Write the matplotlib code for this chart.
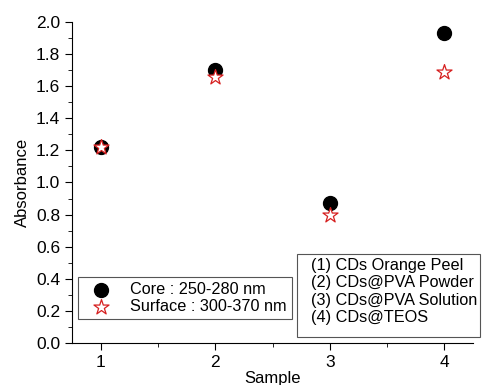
import matplotlib.pyplot as plt
from matplotlib.patches import Rectangle
from matplotlib.ticker import MultipleLocator

plt.rcParams['font.family'] = ['Liberation Sans', 'DejaVu Sans']

samples = [1, 2, 3, 4]
core = [1.22, 1.70, 0.87, 1.93]
surface = [1.22, 1.66, 0.80, 1.69]
sample_names = ['(1) CDs Orange Peel', '(2) CDs@PVA Powder',
                '(3) CDs@PVA Solution', '(4) CDs@TEOS']

W, H = 483, 385
fig = plt.figure(figsize=(W/100, H/100), dpi=100)
ax = fig.add_axes([72/W, 42/H, 401/W, 321/H])

ax.scatter(samples, core, s=100, color='black', label='Core : 250-280 nm', zorder=3)
ax.scatter(samples, surface, s=130, marker='*', facecolor='white', edgecolor='#d62020',
           linewidth=0.9, label='Surface : 300-370 nm', zorder=4)

ax.set_xlim(0.75, 4.25)
ax.set_ylim(0, 2.0)
ax.xaxis.set_major_locator(MultipleLocator(1))
ax.xaxis.set_minor_locator(MultipleLocator(0.5))
ax.yaxis.set_major_locator(MultipleLocator(0.2))
ax.yaxis.set_minor_locator(MultipleLocator(0.1))
ax.yaxis.set_major_formatter(plt.FormatStrFormatter('%.1f'))
for s in ['top', 'right']:
    ax.spines[s].set_visible(False)
ax.tick_params(which='major', length=5, labelsize=12.5, direction='out')
ax.tick_params(which='minor', length=3, direction='out')
ax.set_xlabel('Sample', fontsize=12, labelpad=1)
ax.set_ylabel('Absorbance', fontsize=12, labelpad=4)

leg = ax.legend(loc='lower left', bbox_to_anchor=(-0.005, 0.05), fontsize=11.7,
                fancybox=False, edgecolor='#555555', framealpha=1,
                handletextpad=0.7, borderpad=0.3, borderaxespad=0.5,
                labelspacing=0.1, handlelength=2.2)
leg.get_frame().set_linewidth(0.8)

# sample key box (drawn in figure pixels)
fig.patches.append(Rectangle((297/W, 1 - 337/H), 183/W, 83/H, transform=fig.transFigure,
                             facecolor='white', edgecolor='#555555', linewidth=0.8,
                             zorder=5))
fig.text(311/W, 1 - 258/H, '\n'.join(sample_names), ha='left', va='top',
         fontsize=11.7, linespacing=1.2, zorder=6)

fig.savefig('out.png', dpi=100)
